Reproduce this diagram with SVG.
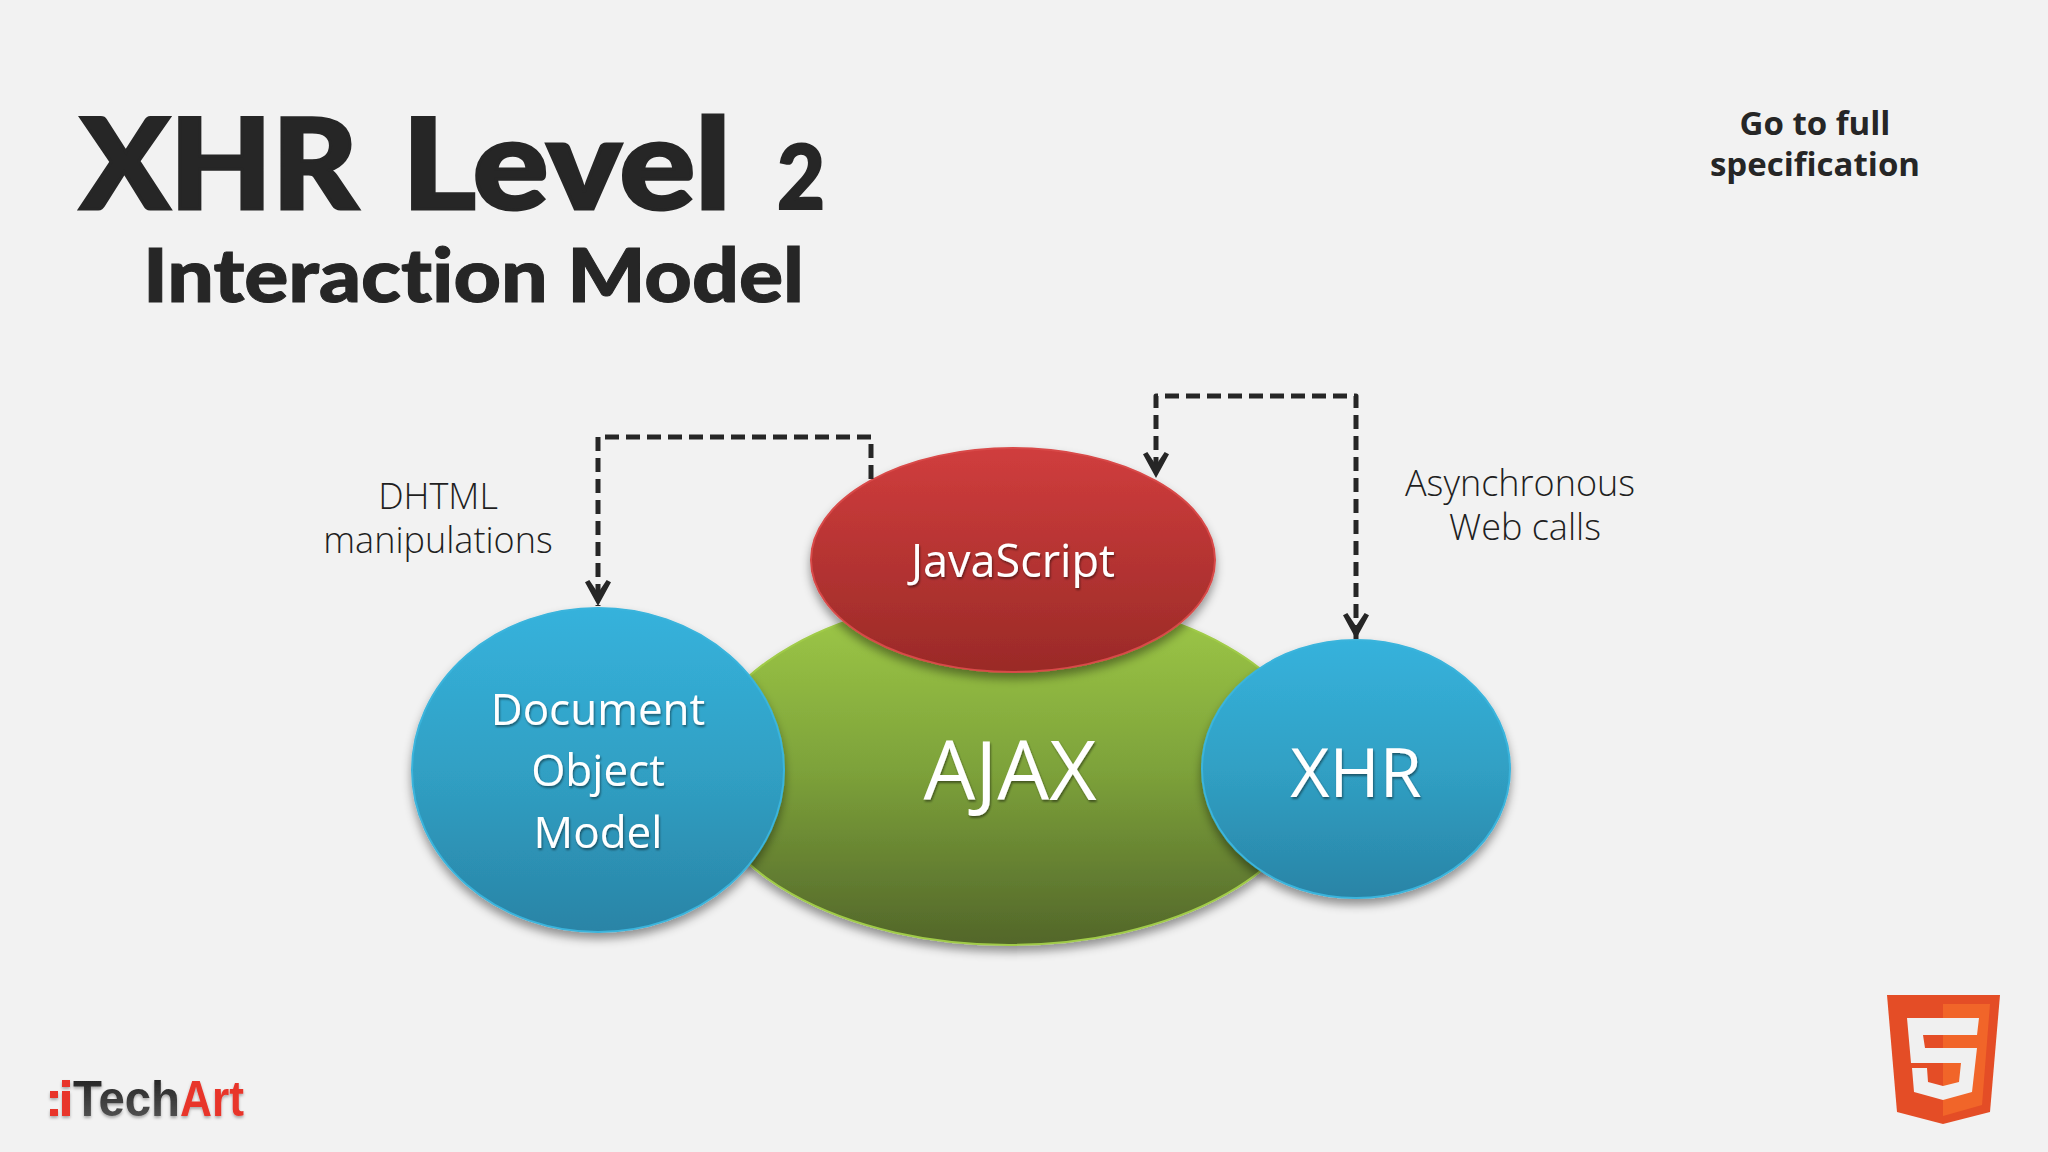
<svg xmlns="http://www.w3.org/2000/svg" width="2048" height="1152" viewBox="0 0 2048 1152">
<style>
.title{font-family:"Lato","Liberation Sans",sans-serif;font-weight:900;fill:#262626;font-variant-ligatures:none}
.note{font-family:"Open Sans","Noto Sans",sans-serif;font-weight:300;font-size:36px;fill:#1f1f1f;text-anchor:middle}
.goto{font-family:"Open Sans","Noto Sans",sans-serif;font-weight:700;font-size:33px;fill:#262626;text-anchor:middle}
.lab{font-family:"Open Sans","Noto Sans",sans-serif;fill:#fff;text-anchor:middle;filter:url(#ts)}
.link{fill:none;stroke:#262626;stroke-width:5;stroke-dasharray:14 7;stroke-linejoin:round}
</style>
<defs>
<linearGradient id="gb" x1="0" y1="0" x2="0" y2="1"><stop offset="0" stop-color="#36b2dc"/><stop offset=".5" stop-color="#30a0c4"/><stop offset="1" stop-color="#2a84a6"/></linearGradient>
<linearGradient id="gg" x1="0" y1="0" x2="0" y2="1"><stop offset="0" stop-color="#a0cb48"/><stop offset=".5" stop-color="#7da23a"/><stop offset="1" stop-color="#52662a"/></linearGradient>
<linearGradient id="gr" x1="0" y1="0" x2="0" y2="1"><stop offset="0" stop-color="#d03d3d"/><stop offset="1" stop-color="#9a2a27"/></linearGradient>
<linearGradient id="gd" x1="0" y1="0" x2="0" y2="1"><stop offset="0" stop-color="#1d1d1d"/><stop offset="1" stop-color="#5c5c5c"/></linearGradient>
<filter id="sh" x="-10%" y="-10%" width="120%" height="125%"><feDropShadow dx="0" dy="6" stdDeviation="5" flood-color="#000" flood-opacity=".4"/></filter>
<filter id="ts" x="-10%" y="-10%" width="120%" height="130%"><feDropShadow dx="1" dy="2" stdDeviation="1.2" flood-color="#000" flood-opacity=".45"/></filter>
<filter id="ls" x="-10%" y="-20%" width="120%" height="150%"><feDropShadow dx="0" dy="2" stdDeviation="1.5" flood-color="#000" flood-opacity=".3"/></filter>
<marker id="arrd" markerUnits="userSpaceOnUse" markerWidth="26" markerHeight="26" refX="24" refY="12" viewBox="0 0 24 24" orient="auto-start-reverse"><path d="M24 12 L2 0 L0 4 L12 12 L0 20 L2 24 Z" fill="#262626"/></marker>
</defs>
<rect width="2048" height="1152" fill="#f2f2f2"/>
<g id="title">
<text class="title" x="80" y="209" font-size="126" textLength="278" lengthAdjust="spacingAndGlyphs" stroke="#262626" stroke-width="3">XHR</text>
<text class="title" x="402" y="209" font-size="126" textLength="329" lengthAdjust="spacingAndGlyphs" stroke="#262626" stroke-width="3">Level</text>
<text class="title" x="777" y="209" font-size="90" textLength="48" lengthAdjust="spacingAndGlyphs" stroke="#262626" stroke-width="2">2</text>
<text class="title" x="143" y="302" font-size="74" textLength="661" lengthAdjust="spacingAndGlyphs" stroke="#262626" stroke-width="1">Interaction Model</text>
</g>
<g id="goto-link">
<text class="goto" x="1815" y="135">Go to full</text>
<text class="goto" x="1815" y="176">specification</text>
</g>
<g id="ajax"><ellipse cx="1009" cy="770" rx="308" ry="175" fill="url(#gg)" stroke="#a0cb48" stroke-width="2" filter="url(#sh)"/>
<text class="lab" x="1010" y="800" font-size="82">AJAX</text></g>
<g id="dom"><ellipse cx="598" cy="770" rx="186" ry="162" fill="url(#gb)" stroke="#3ab4dc" stroke-width="2" filter="url(#sh)"/>
<text class="lab" x="598" y="725" font-size="44">Document</text>
<text class="lab" x="598" y="786" font-size="44">Object</text>
<text class="lab" x="598" y="848" font-size="44">Model</text></g>
<g id="xhr"><ellipse cx="1356" cy="769" rx="154" ry="129" fill="url(#gb)" stroke="#3ab4dc" stroke-width="2" filter="url(#sh)"/>
<text class="lab" x="1356" y="797" font-size="68">XHR</text></g>
<g id="javascript"><ellipse cx="1013" cy="560" rx="202" ry="112" fill="url(#gr)" stroke="#d84a48" stroke-width="2" filter="url(#sh)"/>
<text class="lab" x="1013" y="577" font-size="45">JavaScript</text></g>
<g id="connectors">
<path class="link" d="M871 479V437H598V606" marker-end="url(#arrd)"/>
<path class="link" d="M1356 639V396H1156V478" marker-start="url(#arrd)" marker-end="url(#arrd)"/>
</g>
<g id="labels">
<text class="note" x="438" y="509">DHTML</text>
<text class="note" x="438" y="553">manipulations</text>
<text class="note" x="1520" y="496">Asynchronous</text>
<text class="note" x="1525" y="540">Web calls</text>
</g>
<g id="html5-logo">
<polygon points="1887,995 2000,995 1990,1112 1943,1124 1897,1112" fill="#e44d26"/>
<polygon points="1943,1004 1990,1004 1982,1105 1943,1116" fill="#f16529"/>
<polygon points="1907,1018 1979,1018 1977,1035 1923,1035 1925,1048 1977,1048 1972,1092 1943,1100 1914,1092 1912,1068 1927,1068 1928,1082 1943,1086 1959,1082 1961,1063 1911,1063" fill="#f0f0f0"/>
</g>
<g id="itechart-logo" filter="url(#ls)">
<rect x="50" y="1091" width="8" height="7" fill="#e8352b"/>
<rect x="50" y="1109" width="8" height="7" fill="#e8352b"/>
<rect x="62" y="1080" width="8" height="7" fill="#e8352b"/>
<rect x="62" y="1091" width="8" height="25" fill="#e8352b"/>
<text x="73" y="1116" font-family="Liberation Sans, Arial, sans-serif" font-weight="700" font-size="50" fill="url(#gd)" textLength="107" lengthAdjust="spacingAndGlyphs">Tech</text>
<text x="180" y="1116" font-family="Liberation Sans, Arial, sans-serif" font-weight="700" font-size="50" fill="#e8352b" textLength="64" lengthAdjust="spacingAndGlyphs">Art</text>
</g>
</svg>
